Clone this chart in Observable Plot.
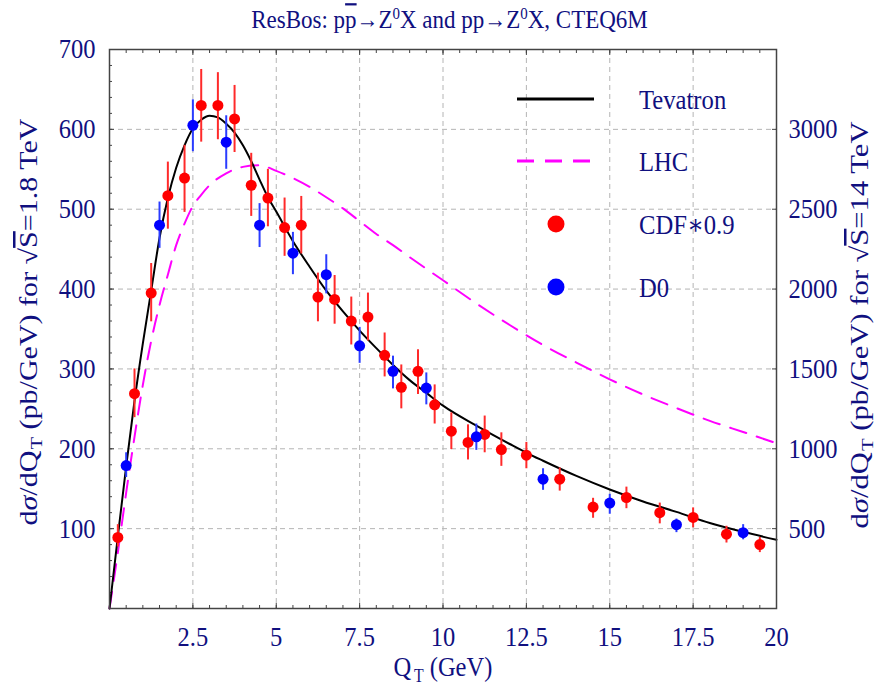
<!DOCTYPE html>
<html>
<head>
<meta charset="utf-8">
<script src="https://cdn.jsdelivr.net/npm/d3@7"></script>
<script src="https://cdn.jsdelivr.net/npm/@observablehq/plot@0.6"></script>
<style>
  html, body { margin: 0; padding: 0; background: white; }
  #wrap { position: relative; width: 885px; height: 687px; font-family: "Liberation Serif", "Times New Roman", Tinos, Times, "DejaVu Serif", serif; color: #10107f; }
  #title { position: absolute; left: 7px; width: 885px; top: 5px; text-align: center; font-size: 23px; line-height: 30px; white-space: nowrap; transform: scaleY(1.12); transform-origin: 50% 50%; }
  #title sup { font-size: 65%; vertical-align: 0.55em; line-height: 0; }
  #title .arr { font-size: 95%; }
  #chart { position: absolute; left: 0; top: 40px; }
  #chart svg text { font-family: "Liberation Serif", "Times New Roman", Tinos, Times, "DejaVu Serif", serif; }
</style>
</head>
<body>
<div id="wrap">
  <div id="title">ResBos: p<span style="text-decoration: overline;">p</span><span class="arr">→</span>Z<sup>0</sup>X and pp<span class="arr">→</span>Z<sup>0</sup>X, CTEQ6M</div>
  <div id="chart"></div>
</div>
<script>
// ---------- data ----------
// CDF (×0.9) points, Tevatron (left axis, pb/GeV)
const cdfX  = [0.25, 0.75, 1.25, 1.75, 2.25, 2.75, 3.25, 3.75, 4.25, 4.75, 5.25, 5.75, 6.25, 6.75, 7.25, 7.75, 8.25, 8.75, 9.25, 9.75, 10.25, 10.75, 11.25, 11.75, 12.5, 13.5, 14.5, 15.5, 16.5, 17.5, 18.5, 19.5];
const cdfY  = [89, 269, 395, 517, 539, 630, 630, 613, 530, 514, 477, 480, 390, 387, 360, 365, 317, 277, 297, 255, 222, 208, 218, 199, 192, 162, 127, 139, 120, 114, 93, 80];
const cdfLo = [77, 239, 359, 475, 496, 584, 587, 571, 491, 478, 441, 444, 359, 356, 330, 335, 290, 250, 268, 231, 199, 186, 195, 178, 175, 147, 113, 125, 106, 101, 82, 70];
const cdfHi = [105, 300, 432, 559, 580, 675, 671, 655, 570, 550, 514, 516, 420, 417, 390, 395, 345, 305, 324, 280, 245, 230, 241, 220, 208, 176, 138, 152, 132, 126, 103, 89];

// D0 points
const d0X  = [0.5, 1.5, 2.5, 3.5, 4.5, 5.5, 6.5, 7.5, 8.5, 9.5, 11.0, 13.0, 15.0, 17.0, 19.0];
const d0Y  = [179, 480, 605, 584, 480, 445, 418, 329, 297, 276, 215, 162, 132, 105, 95];
const d0Lo = [164, 451, 572, 550, 452, 418, 394, 307, 275, 255, 198, 148, 118, 95, 86];
const d0Hi = [195, 509, 637, 617, 507, 471, 443, 352, 316, 295, 231, 175, 143, 112, 105];

// ResBos curve, Tevatron sqrt(S)=1.8 TeV (left axis)
const tevX = [0, 0.25, 0.5, 0.75, 1.0, 1.25, 1.5, 1.75, 2.0, 2.25, 2.5, 2.75, 3.0, 3.25, 3.5, 3.75, 4.0, 4.25, 4.5, 4.75, 5.0, 5.5, 6.0, 6.5, 7.0, 7.5, 8.0, 8.5, 9.0, 9.5, 10, 11, 12, 12.5, 13, 14, 15, 16, 17, 18, 19, 20];
const tevY = [0, 90, 178, 260, 332, 398, 464, 514, 552, 580, 601, 612, 617, 615, 607, 596, 580, 560, 537, 515, 497, 460, 428, 398, 372, 348, 326, 305, 286, 270, 254, 229, 206, 195, 185, 166, 149, 134, 121, 107, 96, 86];

// ResBos curve, LHC sqrt(S)=14 TeV (right axis, pb/GeV)
const lhcX = [0, 0.25, 0.5, 0.75, 1.0, 1.25, 1.5, 1.75, 2.0, 2.25, 2.5, 2.75, 3.0, 3.5, 4.0, 4.5, 5.0, 5.5, 6.0, 6.5, 7.0, 7.5, 8.0, 8.5, 9.0, 10, 11, 12, 13, 14, 15, 16, 17, 18, 19, 20];
const lhcY = [0, 350, 725, 1075, 1400, 1675, 1900, 2090, 2275, 2410, 2520, 2590, 2650, 2725, 2765, 2775, 2740, 2695, 2640, 2575, 2505, 2425, 2345, 2275, 2200, 2055, 1910, 1775, 1650, 1540, 1435, 1340, 1255, 1175, 1105, 1035];

// axis ticks
const xMajor = [2.5, 5, 7.5, 10, 12.5, 15, 17.5, 20];
const xMinor = d3.range(0.5, 20, 0.5);
const yLeftTicks = [100, 200, 300, 400, 500, 600, 700];
const yMinor = d3.range(20, 700, 20);
const rightFactor = 5;           // right axis = left axis × 5
const yRightTicks = [500, 1000, 1500, 2000, 2500, 3000];

const legendLabels = ["Tevatron", "LHC", "CDF∗0.9", "D0"];

// ---------- tables ----------
const cdf = cdfX.map((x, i) => ({x, y: cdfY[i], lo: cdfLo[i], hi: cdfHi[i]}));
const d0 = d0X.map((x, i) => ({x, y: d0Y[i], lo: d0Lo[i], hi: d0Hi[i]}));
const tev = tevX.map((x, i) => ({x, y: tevY[i]}));
const lhc = lhcX.map((x, i) => ({x, y: lhcY[i]}));

const navy = "#10107f";
const frameCol = "#444";
const FF = '"Liberation Serif", "Times New Roman", Tinos, Times, "DejaVu Serif", serif';
const gridOpts = {stroke: "#b4b4b4", strokeOpacity: 1, strokeWidth: 1, strokeDasharray: "5,4"};

const plot = Plot.plot({
  width: 885,
  height: 647,
  marginLeft: 109,
  marginRight: 109,
  marginTop: 9,
  marginBottom: 79,
  style: {fontFamily: FF, fontSize: "25px", color: navy, background: "white", overflow: "visible"},
  x: {domain: [0, 20]},
  y: {domain: [0, 700]},
  marks: [
    Plot.gridX(xMajor.filter(d => d < 20), gridOpts),
    Plot.gridY(yLeftTicks.filter(d => d < 700), gridOpts),
    // tick marks (inside the frame)
    Plot.axisX(xMinor, {anchor: "bottom", tickSize: -3, fill: "none", stroke: frameCol, label: null}),
    Plot.axisX(xMajor, {anchor: "bottom", tickSize: -5, fill: "none", stroke: frameCol, label: null}),
    Plot.axisX(xMinor, {anchor: "top", tickSize: -3, fill: "none", stroke: frameCol, label: null}),
    Plot.axisX(xMajor, {anchor: "top", tickSize: -5, fill: "none", stroke: frameCol, label: null}),
    Plot.axisY(yMinor, {anchor: "left", tickSize: -3, fill: "none", stroke: frameCol, label: null}),
    Plot.axisY(yLeftTicks, {anchor: "left", tickSize: -5, fill: "none", stroke: frameCol, label: null}),
    Plot.axisY(yRightTicks.map(v => v / rightFactor), {anchor: "right", tickSize: -5, fill: "none", stroke: frameCol, label: null}),
    // tick labels
    Plot.axisX(xMajor, {anchor: "bottom", tickSize: 0, tickPadding: 18, fill: navy, fontSize: 25, label: null, tickFormat: d => String(d)}),
    Plot.axisY(yLeftTicks, {anchor: "left", tickSize: 0, tickPadding: 14, fill: navy, fontSize: 25, label: null, tickFormat: d => String(d)}),
    Plot.axisY(yRightTicks.map(v => v / rightFactor), {anchor: "right", tickSize: 0, tickPadding: 12, fill: navy, fontSize: 25, label: null, tickFormat: d => String(d * rightFactor)}),
    // curves
    Plot.line(lhc, {x: "x", y: d => d.y / rightFactor, stroke: "#ff00ff", strokeWidth: 2, strokeDasharray: "17,11", curve: "monotone-x"}),
    Plot.line(tev, {x: "x", y: "y", stroke: "black", strokeWidth: 2, curve: "monotone-x"}),
    // data
    Plot.ruleX(cdf, {x: "x", y1: "lo", y2: "hi", stroke: "#ff2a2a", strokeWidth: 2}),
    Plot.ruleX(d0, {x: "x", y1: "lo", y2: "hi", stroke: "#2a3cff", strokeWidth: 2}),
    Plot.dot(cdf, {x: "x", y: "y", r: 5.5, fill: "#ff0000", stroke: "none"}),
    Plot.dot(d0, {x: "x", y: "y", r: 5.5, fill: "#0000ff", stroke: "none"}),
    Plot.frame({stroke: frameCol, strokeWidth: 1.5})
  ]
});

document.getElementById("chart").appendChild(plot);

// ---------- text styling: tall, slightly condensed serif like the original ----------
const svg = d3.select(plot);
function stretch(sel, size, ratio) {
  sel.each(function() {
    this.style.fontSize = size + "px";
    const w = this.getComputedTextLength();
    this.setAttribute("textLength", (w * ratio).toFixed(1));
    this.setAttribute("lengthAdjust", "spacingAndGlyphs");
  });
}
stretch(svg.selectAll('g[aria-label="x-axis tick label"] text, g[aria-label="y-axis tick label"] text'), 28, 0.875);

// ---------- axis titles & legend ----------
function axisTitle(x, y, energy) {
  const t = svg.append("text")
    .attr("transform", `translate(${x},${y}) rotate(-90)`)
    .attr("text-anchor", "middle")
    .style("font-family", FF)
    .style("font-size", "25px")
    .attr("fill", navy);
  t.append("tspan").text("d");
  t.append("tspan").attr("font-style", "italic").text("σ");
  t.append("tspan").text("/dQ");
  t.append("tspan").attr("font-size", 17).attr("dy", 5).attr("dx", 1).text("T");
  t.append("tspan").attr("dy", -5).text(" (pb/GeV) for ");
  t.append("tspan").text("√");
  t.append("tspan").attr("text-decoration", "overline").text("S");
  t.append("tspan").text("=" + energy + " TeV");
  t.attr("textLength", 407).attr("lengthAdjust", "spacingAndGlyphs");
}
axisTitle(37, 282, "1.8");
axisTitle(868, 285, "14");

// x title
{
  const t = svg.append("text")
    .attr("x", 443).attr("y", 636)
    .attr("text-anchor", "middle")
    .style("font-family", FF)
    .attr("fill", navy);
  t.append("tspan").text("Q");
  t.append("tspan").attr("font-size", 18).attr("dy", 6).attr("dx", 3).text("T");
  t.append("tspan").attr("dy", -6).text(" (GeV)");
  stretch(t, 28, 0.9);
}

// legend
const lg = svg.append("g").attr("text-anchor", "start");
const rowY = [59, 121, 184, 247];
lg.append("line").attr("x1", 517).attr("x2", 594).attr("y1", rowY[0]).attr("y2", rowY[0])
  .attr("stroke", "black").attr("stroke-width", 3);
lg.append("line").attr("x1", 517).attr("x2", 594).attr("y1", rowY[1]).attr("y2", rowY[1])
  .attr("stroke", "#ff00ff").attr("stroke-width", 3).attr("stroke-dasharray", "17,11");
lg.append("circle").attr("cx", 556).attr("cy", rowY[2]).attr("r", 8.5).attr("fill", "#ff0000");
lg.append("circle").attr("cx", 556).attr("cy", rowY[3]).attr("r", 8.5).attr("fill", "#0000ff");
legendLabels.forEach((s, i) => {
  const t = lg.append("text").attr("x", 639).attr("y", rowY[i]).attr("dy", "0.35em")
    .attr("text-anchor", "start")
    .style("font-family", FF).attr("fill", navy).text(s);
  stretch(t, 28, 0.88);
});
</script>
</body>
</html>
